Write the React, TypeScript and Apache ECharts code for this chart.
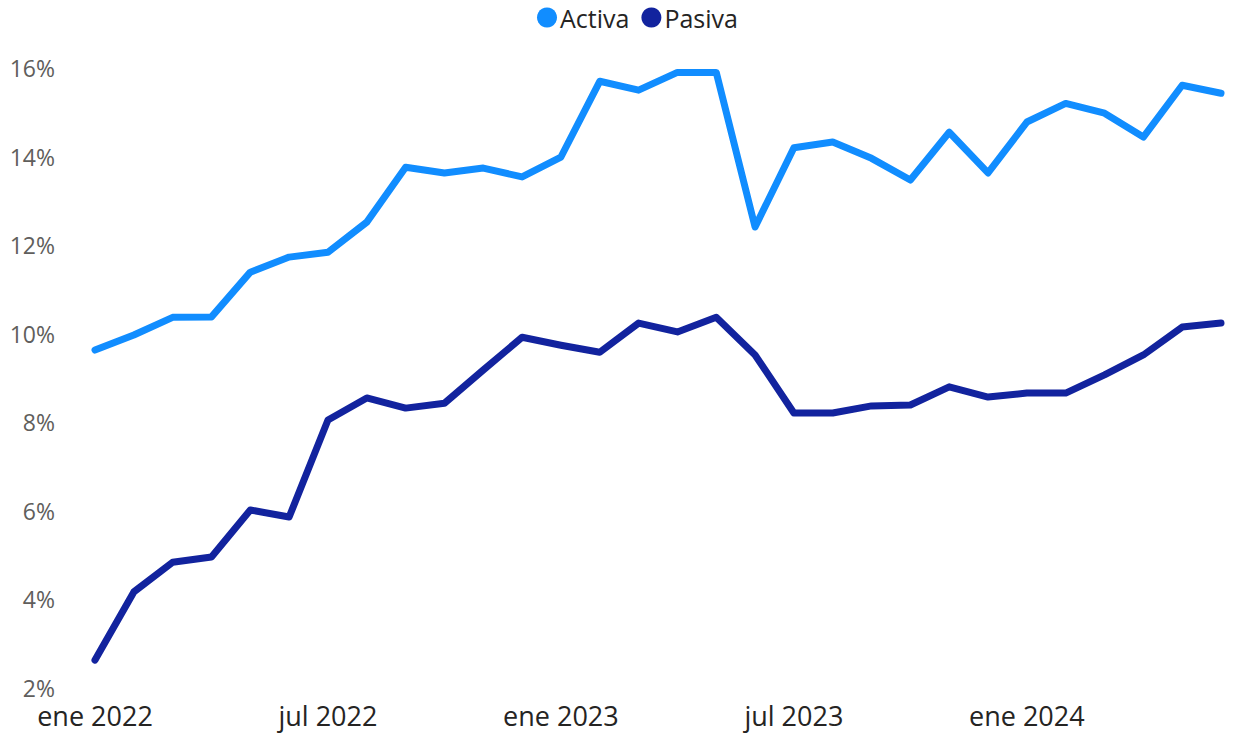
import React, { useEffect, useRef } from "react";
import * as echarts from "echarts";

const months = [
  "ene 2022", "feb 2022", "mar 2022", "abr 2022", "may 2022", "jun 2022",
  "jul 2022", "ago 2022", "sep 2022", "oct 2022", "nov 2022", "dic 2022",
  "ene 2023", "feb 2023", "mar 2023", "abr 2023", "may 2023", "jun 2023",
  "jul 2023", "ago 2023", "sep 2023", "oct 2023", "nov 2023", "dic 2023",
  "ene 2024", "feb 2024", "mar 2024", "abr 2024", "may 2024", "jun 2024",
];

const activa = [
  9.63, 9.97, 10.37, 10.38, 11.39, 11.73, 11.84, 12.52, 13.76, 13.63,
  13.74, 13.54, 13.99, 15.7, 15.5, 15.9, 15.9, 12.41, 14.2, 14.33,
  13.96, 13.47, 14.55, 13.63, 14.78, 15.2, 14.98, 14.44, 15.61, 15.43,
];

const pasiva = [
  2.63, 4.17, 4.84, 4.96, 6.02, 5.86, 8.05, 8.55, 8.32, 8.43,
  9.18, 9.92, 9.74, 9.58, 10.24, 10.04, 10.37, 9.52, 8.21, 8.21,
  8.37, 8.39, 8.8, 8.57, 8.66, 8.66, 9.07, 9.52, 10.15, 10.24,
];

const yTicks = [2, 4, 6, 8, 10, 12, 14, 16];
const labeledMonths = ["ene 2022", "jul 2022", "ene 2023", "jul 2023", "ene 2024"];

const FONT = "'Open Sans', 'Noto Sans', sans-serif";

export default function App() {
  const ref = useRef<HTMLDivElement>(null);

  useEffect(() => {
    if (!ref.current) return;
    const chart = echarts.init(ref.current, undefined, { renderer: "svg" });
    chart.setOption({
      animation: false,
      backgroundColor: "#ffffff",
      textStyle: { fontFamily: FONT },
      legend: {
        data: ["Activa", "Pasiva"],
        left: 537,
        top: 5,
        padding: 0,
        icon: "circle",
        itemWidth: 20,
        itemHeight: 20,
        itemGap: 12,
        textStyle: { fontSize: 25, color: "#252423", fontFamily: FONT, padding: [0, 0, 0, -2] },
      },
      grid: { left: 95, right: 12, top: 68, bottom: 46, containLabel: false },
      xAxis: {
        type: "category",
        data: months,
        boundaryGap: false,
        axisLine: { show: false },
        axisTick: { show: false },
        splitLine: { show: false },
        axisLabel: {
          interval: (idx: number, val: string) => labeledMonths.includes(val),
          fontSize: 27,
          lineHeight: 22,
          color: "#252423",
          margin: 16,
          fontFamily: FONT,
        },
      },
      yAxis: {
        type: "value",
        min: yTicks[0],
        max: yTicks[yTicks.length - 1],
        interval: 2,
        axisLine: { show: false },
        axisTick: { show: false },
        splitLine: { show: false },
        axisLabel: {
          formatter: (v: number) => `${v}%`,
          fontSize: 23,
          lineHeight: 18,
          color: "#605E5C",
          margin: 40,
          fontFamily: FONT,
        },
      },
      series: [
        {
          name: "Activa",
          type: "line",
          data: activa,
          showSymbol: false,
          symbol: "circle",
          color: "#118DFF",
          lineStyle: { width: 7, color: "#118DFF", join: "round", cap: "round" },
        },
        {
          name: "Pasiva",
          type: "line",
          data: pasiva,
          showSymbol: false,
          symbol: "circle",
          color: "#12239E",
          lineStyle: { width: 7, color: "#12239E", join: "round", cap: "round" },
        },
      ],
    });
    return () => chart.dispose();
  }, []);

  return (
    <div
      ref={ref}
      style={{ position: "fixed", left: 0, top: 0, width: 1233, height: 734 }}
    />
  );
}
